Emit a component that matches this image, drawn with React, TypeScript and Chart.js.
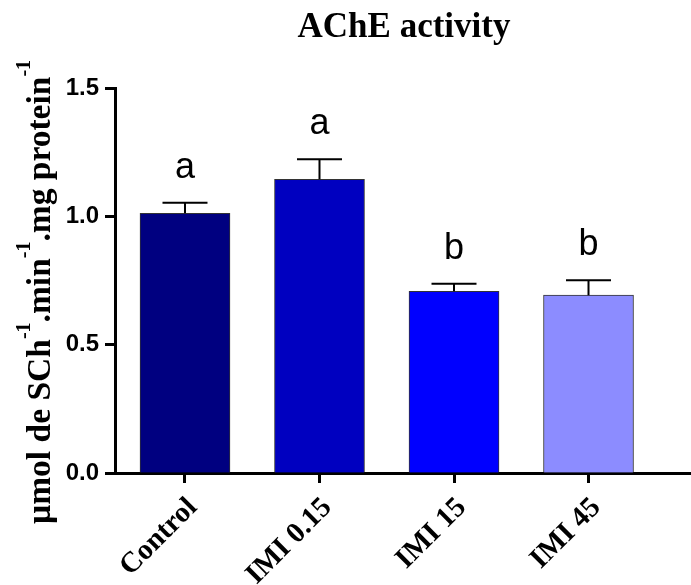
import React, { useEffect, useRef } from "react";
import { Chart, registerables } from "chart.js";

Chart.register(...registerables);

const categories = ["Control", "IMI 0.15", "IMI 15", "IMI 45"];
const means = [1.012, 1.144, 0.708, 0.693];
const sems = [0.041, 0.078, 0.029, 0.058];
const letters = ["a", "a", "b", "b"];
const barColors = ["#000080", "#0000C0", "#0000FF", "#8C8CFF"];
const yTicks = [0, 0.5, 1.0, 1.5];
const titleText = "AChE activity";
const yLabelParts: [string, boolean][] = [
  ["µmol de SCh", false],
  ["-1", true],
  [".min", false],
  ["-1", true],
  [".mg protein", false],
  ["-1", true],
];

const SERIF = '"Liberation Serif", "Times New Roman", serif';
const SANS = '"Liberation Sans", Arial, sans-serif';

const annotPlugin = {
  id: "annot",
  afterDatasetsDraw(chart: any) {
    const { ctx, scales } = chart;
    const xs = scales.x;
    const ys = scales.y;
    ctx.save();
    ctx.strokeStyle = "#000";
    ctx.lineWidth = 2;
    means.forEach((m, i) => {
      const x = xs.getPixelForValue(i);
      const yb = ys.getPixelForValue(m);
      const yt = ys.getPixelForValue(m + sems[i]);
      ctx.beginPath();
      ctx.moveTo(x, yb);
      ctx.lineTo(x, yt);
      ctx.moveTo(x - 22.5, yt);
      ctx.lineTo(x + 22.5, yt);
      ctx.stroke();
      ctx.fillStyle = "#000";
      ctx.font = `36px ${SANS}`;
      ctx.textAlign = "center";
      ctx.textBaseline = "alphabetic";
      ctx.fillText(letters[i], x, yt - 25);
    });
    ctx.fillStyle = "#000";
    ctx.font = `bold 35px ${SERIF}`;
    ctx.textAlign = "center";
    ctx.textBaseline = "alphabetic";
    ctx.fillText(titleText, 404, 37);
    const S = 33.5;
    const sup = Math.round(S * 0.6);
    let total = 0;
    yLabelParts.forEach(([t, isSup]) => {
      ctx.font = `bold ${isSup ? sup : S}px ${SERIF}`;
      total += ctx.measureText(t).width;
    });
    ctx.translate(50, 292);
    ctx.rotate(-Math.PI / 2);
    let cx = -total / 2;
    ctx.textAlign = "left";
    yLabelParts.forEach(([t, isSup]) => {
      ctx.font = `bold ${isSup ? sup : S}px ${SERIF}`;
      ctx.fillText(t, cx, isSup ? -S * 0.6 : 0);
      cx += ctx.measureText(t).width;
    });
    ctx.restore();
  },
};

export default function App() {
  const ref = useRef<HTMLCanvasElement>(null);
  useEffect(() => {
    if (!ref.current) return;
    const chart = new Chart(ref.current, {
      type: "bar",
      data: {
        datasets: [
          {
            data: means.map((v, i) => ({ x: i, y: v })),
            backgroundColor: barColors,
            borderColor: "#333",
            borderWidth: 1,
            barThickness: 90,
          } as any,
        ],
      },
      options: {
        animation: false,
        responsive: false,
        layout: { padding: { top: 88, right: 0, left: 0, bottom: 0 } },
        plugins: { legend: { display: false }, tooltip: { enabled: false } },
        scales: {
          x: {
            type: "linear",
            offset: false,
            min: -0.5204,
            max: 3.762,
            afterBuildTicks: (s: any) => {
              s.ticks = categories.map((_, i) => ({ value: i }));
            },
            afterFit: (s: any) => {
              s.height = 112;
            },
            ticks: {
              autoSkip: false,
              maxRotation: 45,
              minRotation: 45,
              color: "#000",
              padding: 8,
              labelOffset: 8,
              font: { family: SERIF, size: 29, weight: "bold" },
              callback: (v: any) => categories[v] ?? "",
            },
            grid: {
              offset: false,
              drawOnChartArea: false,
              drawTicks: true,
              tickLength: 10,
              tickWidth: 3,
              tickColor: "#000",
            },
            border: { color: "#000", width: 3 },
          },
          y: {
            min: 0,
            max: 1.5,
            afterBuildTicks: (s: any) => {
              s.ticks = yTicks.map((v) => ({ value: v }));
            },
            afterFit: (s: any) => {
              s.width = 115;
            },
            ticks: {
              color: "#000",
              padding: 6,
              font: { family: SANS, size: 24, weight: "bold" },
              callback: (v: any) => Number(v).toFixed(1),
            },
            grid: {
              drawOnChartArea: false,
              drawTicks: true,
              tickLength: 10,
              tickWidth: 3,
              tickColor: "#000",
            },
            border: { color: "#000", width: 3 },
          },
        },
      },
      plugins: [annotPlugin],
    });
    return () => chart.destroy();
  }, []);
  return (
    <canvas
      ref={ref}
      width={691}
      height={585}
      style={{ position: "fixed", left: 0, top: 0, display: "block", background: "#fff" }}
    />
  );
}
